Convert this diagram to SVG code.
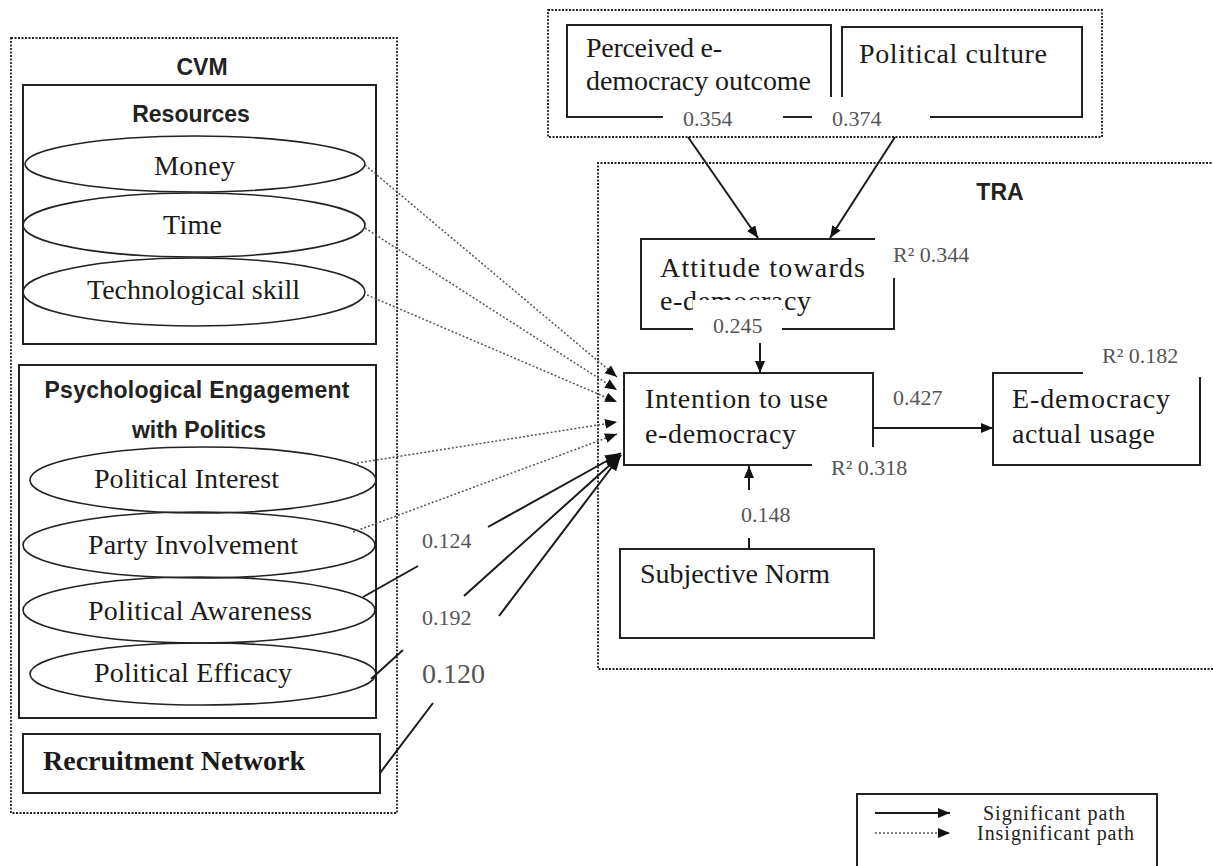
<svg xmlns="http://www.w3.org/2000/svg" width="1213" height="866" viewBox="0 0 1213 866">
<style>
.dot{fill:none;stroke:#222;stroke-width:1.8;stroke-dasharray:2 1.5}
.box{fill:none;stroke:#222;stroke-width:2}
.ell{fill:none;stroke:#222;stroke-width:1.6}
.t{font-family:"Liberation Serif","Times New Roman",serif;font-size:28px;fill:#1a1a1a}
.rn{font-family:"Liberation Serif","Times New Roman",serif;font-size:28px;font-weight:bold;fill:#1a1a1a}
.h{font-family:"Liberation Sans",Arial,sans-serif;font-weight:bold;font-size:23px;fill:#222;text-anchor:middle}
.lbl{font-family:"Liberation Serif","Times New Roman",serif;font-size:22px;fill:#555}
.big{font-family:"Liberation Serif","Times New Roman",serif;font-size:28px;fill:#555}
.sig{stroke:#1a1a1a;stroke-width:2;fill:none}
.ins{stroke:#555;stroke-width:1.5;stroke-dasharray:2 2;fill:none}
.leg{font-family:"Liberation Serif","Times New Roman",serif;font-size:20px;fill:#222}
</style>
<defs>
<marker id="ah" markerUnits="userSpaceOnUse" markerWidth="12" markerHeight="10" refX="12" refY="5" orient="auto">
<path d="M0,0 L12,5 L0,10 z" fill="#111"/>
</marker>
<marker id="ahb" markerUnits="userSpaceOnUse" markerWidth="16" markerHeight="12" refX="16" refY="6" orient="auto">
<path d="M0,0 L16,6 L0,12 z" fill="#111"/>
</marker>
</defs>
<rect width="1213" height="866" fill="#fff"/>

<g id="cvm">
<rect class="dot" x="11" y="38" width="386" height="775"/>
<text class="h" x="202" y="75">CVM</text>
</g>
<g id="resources">
<rect class="box" x="23" y="85" width="353" height="259"/>
<text class="h" x="191" y="122">Resources</text>
</g>
<g id="money">
<ellipse class="ell" cx="195" cy="164" rx="170" ry="28"/>
<text class="t" x="154" y="175" textLength="81">Money</text>
</g>
<g id="time">
<ellipse class="ell" cx="194" cy="225" rx="171" ry="32"/>
<text class="t" x="163" y="234" textLength="59">Time</text>
</g>
<g id="tech">
<ellipse class="ell" cx="194" cy="292" rx="171" ry="34"/>
<text class="t" x="87" y="299" textLength="213">Technological skill</text>
</g>
<g id="psych">
<rect class="box" x="19" y="365" width="357" height="353"/>
<text class="h" x="197" y="398" textLength="305">Psychological Engagement</text>
<text class="h" x="199" y="438">with Politics</text>
</g>
<g id="interest">
<ellipse class="ell" cx="203" cy="480" rx="173" ry="33"/>
<text class="t" x="94" y="488" textLength="185">Political Interest</text>
</g>
<g id="party">
<ellipse class="ell" cx="199" cy="545" rx="176" ry="33"/>
<text class="t" x="88" y="554" textLength="210">Party Involvement</text>
</g>
<g id="awareness">
<ellipse class="ell" cx="199" cy="610" rx="176" ry="33"/>
<text class="t" x="88" y="620" textLength="224">Political Awareness</text>
</g>
<g id="efficacy">
<ellipse class="ell" cx="203" cy="674" rx="173" ry="31"/>
<text class="t" x="94" y="682" textLength="198">Political Efficacy</text>
</g>
<g id="recruitment">
<rect class="box" x="23" y="734" width="357" height="59"/>
<text class="rn" x="43" y="770">Recruitment Network</text>
</g>

<g id="context">
<rect class="dot" x="548" y="10" width="554" height="127"/>
</g>
<g id="perceived">
<path class="box" d="M663,117 L567,117 L567,25 L831,25 L831,97 M783,117 L812,117"/>
<text class="t" x="586" y="57" textLength="136">Perceived e-</text>
<text class="t" x="586" y="90" textLength="225">democracy outcome</text>
</g>
<g id="culture">
<path class="box" d="M842,97 L842,27 L1082,27 L1082,117 L930,117"/>
<text class="t" x="859" y="63" textLength="188">Political culture</text>
</g>

<g id="tra">
<path class="dot" d="M1215,163 L598,163 L598,669 L1215,669"/>
<text class="h" x="1000" y="200">TRA</text>
</g>
<g id="attitude">
<path class="box" d="M693,329 L641,329 L641,239 L875,239 M894,278 L894,329 L782,329"/>
<text class="t" x="660" y="277" textLength="205">Attitude towards</text>
<text class="t" x="660" y="310" textLength="151">e-democracy</text>
<rect x="693" y="300" width="89" height="42" fill="#fff"/>
</g>
<g id="intention">
<path class="box" d="M812,465 L624,465 L624,373 L873,373 L873,447"/>
<text class="t" x="645" y="408" textLength="183">Intention to use</text>
<text class="t" x="645" y="443" textLength="151">e-democracy</text>
</g>
<g id="usage">
<path class="box" d="M1083,373 L993,373 L993,465 L1200,465 L1200,377"/>
<text class="t" x="1012" y="408" textLength="158">E-democracy</text>
<text class="t" x="1012" y="443" textLength="143">actual usage</text>
</g>
<g id="norm">
<rect class="box" x="620" y="549" width="254" height="89"/>
<text class="t" x="640" y="583" textLength="190">Subjective Norm</text>
</g>

<g id="connectors">
<path class="ins" d="M365,165 L617,377" marker-end="url(#ah)"/>
<path class="ins" d="M365,228 L617,390" marker-end="url(#ah)"/>
<path class="ins" d="M367,295 L617,402" marker-end="url(#ah)"/>
<path class="ins" d="M357,463 L617,422" marker-end="url(#ah)"/>
<path class="ins" d="M353,532 L617,434" marker-end="url(#ah)"/>
<path class="sig" d="M363,597 L418,566 M488,527 L621,453" marker-end="url(#ahb)"/>
<path class="sig" d="M371,679 L403,650 M464,596 L621,455" marker-end="url(#ahb)"/>
<path class="sig" d="M380,773 L433,703 M499,616 L621,455" marker-end="url(#ahb)"/>
<path class="sig" d="M688,137 L758,238" marker-end="url(#ah)"/>
<path class="sig" d="M895,137 L830,238" marker-end="url(#ah)"/>
<path class="sig" d="M760,343 L760,373" marker-end="url(#ah)"/>
<path class="sig" d="M873,428 L993,428" marker-end="url(#ah)"/>
<path class="sig" d="M749,549 L749,538 M749,490 L749,466" marker-end="url(#ah)"/>
</g>

<g id="labels">
<text class="lbl" x="683" y="126">0.354</text>
<text class="lbl" x="832" y="126">0.374</text>
<text class="lbl" x="893" y="262">R² 0.344</text>
<text class="lbl" x="713" y="333">0.245</text>
<text class="lbl" x="831" y="475">R² 0.318</text>
<text class="lbl" x="1102" y="363">R² 0.182</text>
<text class="lbl" x="893" y="405">0.427</text>
<text class="lbl" x="741" y="522">0.148</text>
<text class="lbl" x="422" y="548">0.124</text>
<text class="lbl" x="422" y="625">0.192</text>
<text class="big" x="422" y="683">0.120</text>
</g>

<g id="legend">
<rect class="box" x="857" y="794" width="300" height="80"/>
<path class="sig" d="M875,813 L950,813" marker-end="url(#ah)"/>
<path class="ins" d="M875,833 L950,833" marker-end="url(#ah)"/>
<text class="leg" x="983" y="820" textLength="142">Significant path</text>
<text class="leg" x="977" y="840" textLength="157">Insignificant path</text>
</g>
</svg>
